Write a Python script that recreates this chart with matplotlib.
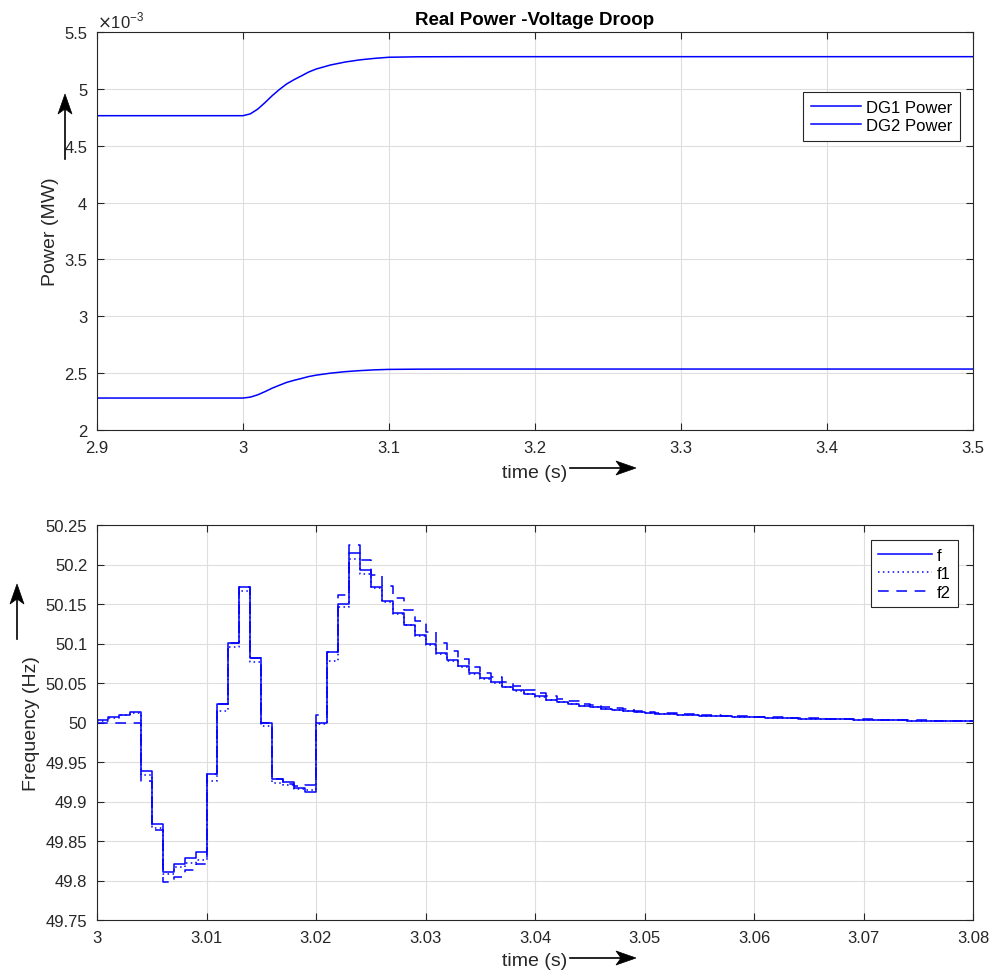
import numpy as np
import matplotlib
matplotlib.use("Agg")
import matplotlib.pyplot as plt
from matplotlib.patches import Polygon
from matplotlib.lines import Line2D
from matplotlib.ticker import FormatStrFormatter

plt.rcParams['font.family'] = ['Liberation Sans', 'DejaVu Sans']

# ---- Real power of the two DGs (MW) ----
t_power = [2.9, 3.0, 3.005, 3.01, 3.015, 3.02, 3.025, 3.03, 3.035, 3.04, 3.045,
           3.05, 3.06, 3.07, 3.08, 3.09, 3.1, 3.12, 3.15, 3.2, 3.3, 3.4, 3.5]
dg1_power = [4.764e-3, 4.764e-3, 4.780e-3, 4.821e-3, 4.878e-3, 4.940e-3, 4.995e-3,
             5.044e-3, 5.081e-3, 5.114e-3, 5.148e-3, 5.174e-3, 5.210e-3, 5.236e-3,
             5.255e-3, 5.268e-3, 5.278e-3, 5.282e-3, 5.283e-3, 5.283e-3, 5.283e-3,
             5.283e-3, 5.283e-3]
dg2_power = [2.281e-3, 2.281e-3, 2.289e-3, 2.309e-3, 2.337e-3, 2.368e-3, 2.394e-3,
             2.419e-3, 2.437e-3, 2.453e-3, 2.470e-3, 2.482e-3, 2.500e-3, 2.513e-3,
             2.522e-3, 2.529e-3, 2.533e-3, 2.535e-3, 2.536e-3, 2.536e-3, 2.536e-3,
             2.536e-3, 2.536e-3]
power_yticks = [2, 2.5, 3, 3.5, 4, 4.5, 5, 5.5]
power_xticks = [2.9, 3.0, 3.1, 3.2, 3.3, 3.4, 3.5]

# ---- Frequencies, sampled every 1 ms from t = 3.000 s ----
t_freq_start = 3.0
t_freq_step = 0.001
freq_f = [50.003, 50.007, 50.010, 50.013, 49.939, 49.871, 49.811, 49.821, 49.829, 49.836,
          49.935, 50.023, 50.101, 50.171, 50.082, 50.000, 49.928, 49.925, 49.917, 49.912,
          50.000, 50.089, 50.150, 50.214, 50.193, 50.172, 50.154, 50.138, 50.124, 50.111,
          50.099, 50.088, 50.079, 50.071, 50.063, 50.056, 50.051, 50.045, 50.041, 50.036,
          50.033, 50.029, 50.026, 50.023, 50.021, 50.019, 50.0175, 50.016, 50.015, 50.013,
          50.012, 50.0112, 50.0105, 50.010, 50.0094, 50.0088, 50.0083, 50.0078, 50.0073, 50.0069,
          50.0065, 50.0060, 50.0057, 50.0053, 50.0050, 50.0047, 50.0044, 50.0041, 50.0038, 50.0035,
          50.0033, 50.0031, 50.0029, 50.0027, 50.0025, 50.0023, 50.0021, 50.0020, 50.0019, 50.0018,
          50.0017]
freq_f1 = [50.002, 50.006, 50.009, 50.012, 49.933, 49.866, 49.808, 49.817, 49.822, 49.826,
           49.926, 50.015, 50.095, 50.166, 50.076, 49.996, 49.924, 49.921, 49.916, 49.915,
           49.998, 50.078, 50.146, 50.207, 50.188, 50.170, 50.153, 50.137, 50.123, 50.110,
           50.098, 50.087, 50.078, 50.070, 50.062, 50.055, 50.050, 50.045, 50.040, 50.036,
           50.032, 50.029, 50.026, 50.023, 50.021, 50.019, 50.0175, 50.016, 50.015, 50.013,
           50.012, 50.0112, 50.0105, 50.010, 50.0094, 50.0088, 50.0083, 50.0078, 50.0073, 50.0069,
           50.0065, 50.0060, 50.0057, 50.0053, 50.0050, 50.0047, 50.0044, 50.0041, 50.0038, 50.0035,
           50.0033, 50.0031, 50.0029, 50.0027, 50.0025, 50.0023, 50.0021, 50.0020, 50.0019, 50.0018,
           50.0017]
freq_f2 = [50.000, 50.000, 50.000, 50.000, 49.926, 49.864, 49.798, 49.804, 49.813, 49.821,
           49.935, 50.023, 50.101, 50.171, 50.082, 50.000, 49.928, 49.922, 49.919, 49.921,
           50.009, 50.089, 50.162, 50.225, 50.206, 50.187, 50.173, 50.158, 50.143, 50.129,
           50.115, 50.101, 50.090, 50.080, 50.070, 50.063, 50.057, 50.051, 50.046, 50.041,
           50.037, 50.033, 50.030, 50.027, 50.024, 50.022, 50.020, 50.018, 50.0165, 50.015,
           50.0135, 50.0125, 50.0117, 50.0110, 50.0103, 50.0097, 50.0091, 50.0086, 50.0081, 50.0076,
           50.0072, 50.0068, 50.0064, 50.0060, 50.0056, 50.0053, 50.0050, 50.0047, 50.0044, 50.0041,
           50.0038, 50.0036, 50.0034, 50.0031, 50.0029, 50.0027, 50.0025, 50.0023, 50.0022, 50.0020,
           50.0019]
freq_yticks = [49.75, 49.8, 49.85, 49.9, 49.95, 50.0, 50.05, 50.1, 50.15, 50.2, 50.25]
freq_xticks = [3.0, 3.01, 3.02, 3.03, 3.04, 3.05, 3.06, 3.07, 3.08]

W, H = 997, 979
fig = plt.figure(figsize=(W / 100, H / 100), dpi=100)

AX_COLOR = '#262626'
GRID_COLOR = '#dedede'
LINE_COLOR = '#0000ff'
LINE_W = 1.1
TICK_FS = 12
LABEL_FS = 14
LEGEND_FS = 12


def px_rect(left, top, right, bottom):
    return [left / W, 1 - bottom / H, (right - left) / W, (bottom - top) / H]


def style_axes(ax):
    ax.grid(True, color=GRID_COLOR, linewidth=0.8)
    ax.set_axisbelow(True)
    for s in ax.spines.values():
        s.set_color(AX_COLOR)
        s.set_linewidth(0.8)
    ax.tick_params(direction='in', top=True, right=True, length=5, width=0.8,
                   colors=AX_COLOR, labelsize=TICK_FS, pad=7)


def add_legend(ax, anchor, handlelength):
    leg = ax.legend(loc='upper right', bbox_to_anchor=anchor, fontsize=LEGEND_FS,
                    frameon=True, fancybox=False, edgecolor=AX_COLOR, framealpha=1,
                    handlelength=handlelength, handletextpad=0.3, borderpad=0.45,
                    labelspacing=0.22, borderaxespad=0)
    leg.get_frame().set_linewidth(0.8)
    return leg


# ---- upper panel: power ----
ax1 = fig.add_axes(px_rect(97, 33, 973, 431))
style_axes(ax1)
ax1.plot(t_power, np.array(dg1_power) * 1e3, color=LINE_COLOR, lw=LINE_W, label='DG1 Power')
ax1.plot(t_power, np.array(dg2_power) * 1e3, color=LINE_COLOR, lw=LINE_W, label='DG2 Power')
ax1.set_xlim(2.9, 3.5)
ax1.set_ylim(2, 5.5)
ax1.set_xticks(power_xticks)
ax1.set_yticks(power_yticks)
ax1.xaxis.set_major_formatter(FormatStrFormatter('%g'))
ax1.yaxis.set_major_formatter(FormatStrFormatter('%g'))
ax1.text(0.0, 1.004, r'$\times$10$^{\mathregular{-3}}$', transform=ax1.transAxes,
         ha='left', va='bottom', fontsize=TICK_FS, color=AX_COLOR)
ax1.set_title('Real Power -Voltage Droop', fontsize=13.5, fontweight='bold', pad=6, color='black')
ax1.set_xlabel('time (s)', fontsize=LABEL_FS, color=AX_COLOR, labelpad=7)
ax1.set_ylabel('Power (MW)', fontsize=LABEL_FS, color=AX_COLOR, labelpad=4)
add_legend(ax1, (0.985, 0.849), 3.0)

# ---- lower panel: frequency ----
t_freq = t_freq_start + t_freq_step * np.arange(len(freq_f))
ax2 = fig.add_axes(px_rect(97, 526, 973, 921))
style_axes(ax2)
ax2.plot(t_freq, freq_f, color=LINE_COLOR, lw=LINE_W, drawstyle='steps-post', label='f')
ax2.plot(t_freq, freq_f1, color=LINE_COLOR, lw=LINE_W, drawstyle='steps-post',
         linestyle=(0, (1, 2.2)), label='f1')
ax2.plot(t_freq, freq_f2, color=LINE_COLOR, lw=LINE_W, drawstyle='steps-post',
         linestyle=(0, (7, 5)), label='f2')
ax2.set_xlim(3.0, 3.08)
ax2.set_ylim(49.75, 50.25)
ax2.set_xticks(freq_xticks)
ax2.set_yticks(freq_yticks)
ax2.xaxis.set_major_formatter(FormatStrFormatter('%g'))
ax2.yaxis.set_major_formatter(FormatStrFormatter('%g'))
ax2.set_xlabel('time (s)', fontsize=LABEL_FS, color=AX_COLOR, labelpad=5)
ax2.set_ylabel('Frequency (Hz)', fontsize=LABEL_FS, color=AX_COLOR, labelpad=4)
add_legend(ax2, (0.983, 0.962), 3.2)


# ---- direction arrows (stealth heads), given in figure pixels ----
def fig_arrow(x0, y0, x1, y1, head_len=20, head_half=7, notch=5):
    d = np.array([x1 - x0, y1 - y0], dtype=float)
    d /= np.hypot(*d)
    n = np.array([-d[1], d[0]])
    tip = np.array([x1, y1], dtype=float)
    back = tip - d * head_len
    pts = [tip, back + n * head_half, tip - d * (head_len - notch), back - n * head_half]
    to_fig = lambda p: (p[0] / W, 1 - p[1] / H)
    shaft_end = tip - d * (head_len - notch)
    fig.add_artist(Line2D([x0 / W, shaft_end[0] / W], [1 - y0 / H, 1 - shaft_end[1] / H],
                          transform=fig.transFigure, color='black', lw=1.2))
    fig.add_artist(Polygon([to_fig(p) for p in pts], closed=True, transform=fig.transFigure,
                           facecolor='black', edgecolor='black', lw=0.5))


fig_arrow(570, 469, 636, 469)
fig_arrow(65, 160, 65, 95)
fig_arrow(570, 959, 636, 959)
fig_arrow(17, 640, 17, 585)

fig.savefig('out.png', dpi=100, facecolor='white')
